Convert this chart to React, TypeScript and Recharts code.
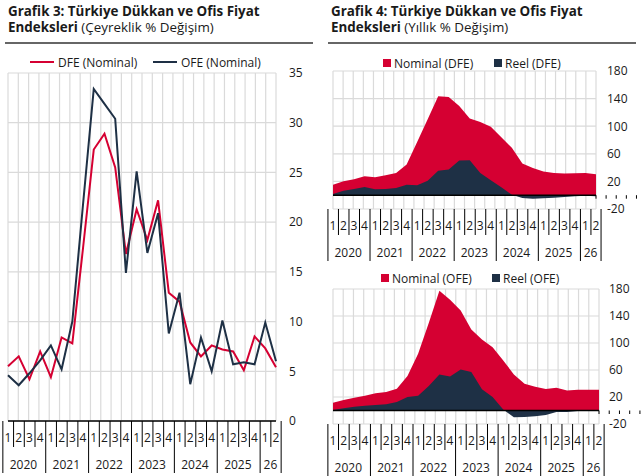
import React from 'react';
import { LineChart, Line, AreaChart, Area, XAxis, YAxis, CartesianGrid, ReferenceLine } from 'recharts';

// ---------- data ----------
const quarterLabels = ['1','2','3','4','1','2','3','4','1','2','3','4','1','2','3','4','1','2','3','4','1','2','3','4','1','2'];
const yearLabels = ['2020','2020','2020','2020','2021','2021','2021','2021','2022','2022','2022','2022','2023','2023','2023','2023','2024','2024','2024','2024','2025','2025','2025','2025','26','26'];

// Grafik 3: quarterly % change
const dfeQuarterly = [5.5, 6.5, 4.2, 7.0, 4.4, 8.4, 7.8, 17.4, 27.3, 28.9, 25.5, 16.8, 21.3, 18.2, 22.2, 12.9, 12.0, 7.9, 6.5, 7.6, 7.2, 7.0, 5.1, 8.5, 7.3, 5.4];
const ofeQuarterly = [4.6, 3.6, 4.8, 6.1, 7.6, 5.2, 10.0, 21.8, 33.4, 31.9, 30.4, 14.9, 25.1, 16.9, 20.9, 8.8, 12.9, 3.7, 8.4, 5.0, 10.1, 5.7, 5.9, 5.7, 9.9, 6.0];

// Grafik 4: annual % change
const dfeNominalYoY = [15.3, 20.1, 23, 27.4, 26, 28.8, 32.2, 44.4, 77, 110, 143.3, 142.3, 129.2, 111.3, 106, 99.2, 84.1, 68.6, 45.8, 39.5, 34.2, 32.2, 31.3, 31.8, 32.2, 30.3];
const dfeRealYoY = [1.7, 6.5, 9, 11.9, 8.5, 9, 10.4, 15.3, 14.3, 21.1, 35.6, 37.1, 50.2, 50.7, 32.2, 21.6, 11.4, 0.7, -4.1, -5.1, -4.6, -3.6, -2.7, -1.7, -0.7, -1.7];
const ofeNominalYoY = [11.6, 15.6, 19, 22, 25.4, 27.4, 32.3, 51, 84, 129.8, 177.5, 164.2, 148, 120, 105.2, 93.8, 74.2, 53.5, 39.7, 35.3, 31.8, 33.8, 29.8, 30.8, 30.8, 30.8];
const ofeRealYoY = [0.8, 3.2, 5.7, 7.2, 8.2, 9.2, 12.6, 20, 22, 36.2, 53.5, 50.5, 60.9, 56.9, 31.3, 20, 1.5, -10, -9.6, -8.6, -6.6, -2.2, -2.2, -0.7, -0.2, -0.2];

const leftTicks = [0, 5, 10, 15, 20, 25, 30, 35];
const dfeTicks = [-20, 20, 60, 100, 140, 180];
const ofeTicks = [-20, 20, 60, 100, 140, 180];

// ---------- styles ----------
const RED = '#d50032';
const NAVY = '#1e3045';
const GRID = '#dadada';
const TEXT = '#1a1a1a';
const FONT = "'Open Sans', sans-serif";
const N = quarterLabels.length;

const quarterlyData = quarterLabels.map((q, i) => ({
  key: `${yearLabels[i]}-${q}-${i}`,
  dfe: dfeQuarterly[i],
  ofe: ofeQuarterly[i],
}));
const dfeData = quarterLabels.map((q, i) => ({
  key: `${yearLabels[i]}-${q}-${i}`,
  nom: dfeNominalYoY[i],
  real: dfeRealYoY[i],
}));
const ofeData = quarterLabels.map((q, i) => ({
  key: `${yearLabels[i]}-${q}-${i}`,
  nom: ofeNominalYoY[i],
  real: ofeRealYoY[i],
}));

const makeXTick = (bw: number) => (props: any) => {
  const { x, y } = props;
  const i: number = props.index ?? props.payload?.index ?? 0;
  const left = x - bw / 2;
  const isYearStart = i === 0 || yearLabels[i] !== yearLabels[i - 1];
  const els: any[] = [];
  els.push(
    <line key="s" x1={left} x2={left} y1={y} y2={y + (isYearStart ? 52 : 26)} stroke="#000" strokeWidth={1} />
  );
  els.push(
    <text key="q" x={x} y={y + 17} dy="0.36em" textAnchor="middle" fontSize={12} fill={TEXT} fontFamily={FONT}>
      {quarterLabels[i]}
    </text>
  );
  if (isYearStart) {
    let n = 0;
    while (i + n < N && yearLabels[i + n] === yearLabels[i]) n++;
    els.push(
      <text key="y" x={left + (n * bw) / 2} y={y + 43.5} dy="0.36em" textAnchor="middle" fontSize={12} fill={TEXT} fontFamily={FONT}>
        {yearLabels[i]}
      </text>
    );
  }
  if (i === N - 1) {
    els.push(<line key="e" x1={x + bw / 2} x2={x + bw / 2} y1={y} y2={y + 52} stroke="#000" strokeWidth={1} />);
  }
  return <g>{els}</g>;
};

const makeYTick = (dx: number) => (props: any) => {
  const { x, y, payload } = props;
  return (
    <text x={x + dx} y={y} dy="0.36em" textAnchor="start" fontSize={12} fill={TEXT} fontFamily={FONT}>
      {payload.value}
    </text>
  );
};

const gridGen = (plotLeft: number, bw: number) => () =>
  Array.from({ length: N + 1 }, (_, k) => plotLeft + k * bw);

const ZeroAxis = (bw: number) => (p: any) => {
  const { x1, x2, y1 } = p;
  const marks = Array.from({ length: N + 1 }, (_, k) => x1 + k * bw);
  return (
    <g>
      <line x1={x1} x2={x2} y1={y1} y2={y1} stroke="#000" strokeWidth={1.5} />
      {marks.map((mx, k) => (
        <line key={k} x1={mx} x2={mx} y1={y1} y2={y1 + 3.5} stroke="#000" strokeWidth={1} />
      ))}
    </g>
  );
};

const Title = ({ left, line1, line2 }: { left: number; line1: string; line2: string }) => (
  <div style={{ position: 'absolute', left, top: 4, fontFamily: FONT, fontSize: 13.4, lineHeight: '15.5px', color: TEXT, whiteSpace: 'nowrap' }}>
    <div style={{ fontWeight: 700 }}>{line1}</div>
    <div>
      <span style={{ fontWeight: 700 }}>Endeksleri</span> {line2}
    </div>
  </div>
);

const LineKey = ({ x, y, color, label }: any) => (
  <div style={{ position: 'absolute', left: x, top: y - 9, height: 18, display: 'flex', alignItems: 'center', fontFamily: FONT, fontSize: 12, color: TEXT, whiteSpace: 'nowrap' }}>
    <span style={{ display: 'inline-block', width: 24, height: 2, background: color, marginRight: 4 }} />
    {label}
  </div>
);

const BoxKey = ({ x, y, color, label }: any) => (
  <div style={{ position: 'absolute', left: x, top: y - 9, height: 18, display: 'flex', alignItems: 'center', fontFamily: FONT, fontSize: 12, color: TEXT, whiteSpace: 'nowrap' }}>
    <span style={{ display: 'inline-block', width: 8, height: 8, background: color, marginRight: 3 }} />
    {label}
  </div>
);

export default function App() {
  // left chart layout
  const L = { w: 320, h: 476, top: 73, left: 8, yW: 44, xH: 55 };
  const lBw = (L.w - L.left - L.yW) / N;

  // right top (plot 333..596 x 71..209)
  const RT = { w: 323, h: 262, top: 71, left: 13, yW: 47, xH: 53 };
  const rtBw = (RT.w - RT.left - RT.yW) / N;

  // right bottom (plot 333..599 x 289..424)
  const RB = { w: 323, h: 214, top: 27, left: 13, yW: 44, xH: 52 };
  const rbBw = (RB.w - RB.left - RB.yW) / N;

  return (
    <div style={{ position: 'absolute', left: 0, top: 0, width: 643, height: 476, background: '#fff', overflow: 'hidden', fontFamily: FONT }}>
      <Title left={8} line1="Grafik 3: Türkiye Dükkan ve Ofis Fiyat" line2="(Çeyreklik % Değişim)" />
      <Title left={331} line1="Grafik 4: Türkiye Dükkan ve Ofis Fiyat" line2="(Yıllık % Değişim)" />
      <div style={{ position: 'absolute', left: 5, top: 42, width: 308, height: 1.5, background: '#666' }} />
      <div style={{ position: 'absolute', left: 328, top: 42, width: 308, height: 1.5, background: '#666' }} />

      <LineKey x={30} y={62} color={RED} label="DFE (Nominal)" />
      <LineKey x={153} y={62} color={NAVY} label="OFE (Nominal)" />
      <BoxKey x={383} y={63} color={RED} label="Nominal (DFE)" />
      <BoxKey x={494} y={63} color={NAVY} label="Reel (DFE)" />
      <BoxKey x={381} y={278} color={RED} label="Nominal (OFE)" />
      <BoxKey x={492} y={278} color={NAVY} label="Reel (OFE)" />

      <div style={{ position: 'absolute', left: 0, top: 0 }}>
        <LineChart width={L.w} height={L.h} data={quarterlyData} margin={{ top: L.top, right: 0, bottom: 0, left: L.left }}>
          <CartesianGrid stroke={GRID} strokeWidth={1.2} verticalCoordinatesGenerator={gridGen(L.left, lBw)} />
          <XAxis dataKey="key" height={L.xH} interval={0} tickLine={false} tickSize={0} tickMargin={0} axisLine={{ stroke: '#000', strokeWidth: 1.5 }} tick={makeXTick(lBw)} />
          <YAxis orientation="right" width={L.yW} domain={[0, 35]} ticks={leftTicks} interval={0} tickLine={false} tickSize={0} tickMargin={0} axisLine={false} tick={makeYTick(13)} />
          <Line type="linear" dataKey="dfe" stroke={RED} strokeWidth={2} dot={false} isAnimationActive={false} />
          <Line type="linear" dataKey="ofe" stroke={NAVY} strokeWidth={2} dot={false} isAnimationActive={false} />
        </LineChart>
      </div>

      <div style={{ position: 'absolute', left: 320, top: 0 }}>
        <AreaChart width={RT.w} height={RT.h} data={dfeData} margin={{ top: RT.top, right: 0, bottom: 0, left: RT.left }}>
          <CartesianGrid stroke={GRID} strokeWidth={1.2} verticalCoordinatesGenerator={gridGen(RT.left, rtBw)} />
          <XAxis dataKey="key" height={RT.xH} interval={0} tickLine={false} tickSize={0} tickMargin={0} axisLine={false} tick={makeXTick(rtBw)} />
          <YAxis orientation="right" width={RT.yW} domain={[-20, 180]} ticks={dfeTicks} interval={0} tickLine={false} tickSize={0} tickMargin={0} axisLine={false} tick={makeYTick(11)} />
          <Area type="linear" dataKey="nom" baseValue={0} stroke="none" fill={RED} fillOpacity={1} isAnimationActive={false} />
          <Area type="linear" dataKey="real" baseValue={0} stroke="none" fill={NAVY} fillOpacity={1} isAnimationActive={false} />
          <ReferenceLine y={0} stroke="#000" shape={ZeroAxis(rtBw)} />
        </AreaChart>
      </div>

      <div style={{ position: 'absolute', left: 320, top: 262 }}>
        <AreaChart width={RB.w} height={RB.h} data={ofeData} margin={{ top: RB.top, right: 0, bottom: 0, left: RB.left }}>
          <CartesianGrid stroke={GRID} strokeWidth={1.2} verticalCoordinatesGenerator={gridGen(RB.left, rbBw)} />
          <XAxis dataKey="key" height={RB.xH} interval={0} tickLine={false} tickSize={0} tickMargin={0} axisLine={false} tick={makeXTick(rbBw)} />
          <YAxis orientation="right" width={RB.yW} domain={[-20, 180]} ticks={ofeTicks} interval={0} tickLine={false} tickSize={0} tickMargin={0} axisLine={false} tick={makeYTick(10)} />
          <Area type="linear" dataKey="nom" baseValue={0} stroke="none" fill={RED} fillOpacity={1} isAnimationActive={false} />
          <Area type="linear" dataKey="real" baseValue={0} stroke="none" fill={NAVY} fillOpacity={1} isAnimationActive={false} />
          <ReferenceLine y={0} stroke="#000" shape={ZeroAxis(rbBw)} />
        </AreaChart>
      </div>
    </div>
  );
}
